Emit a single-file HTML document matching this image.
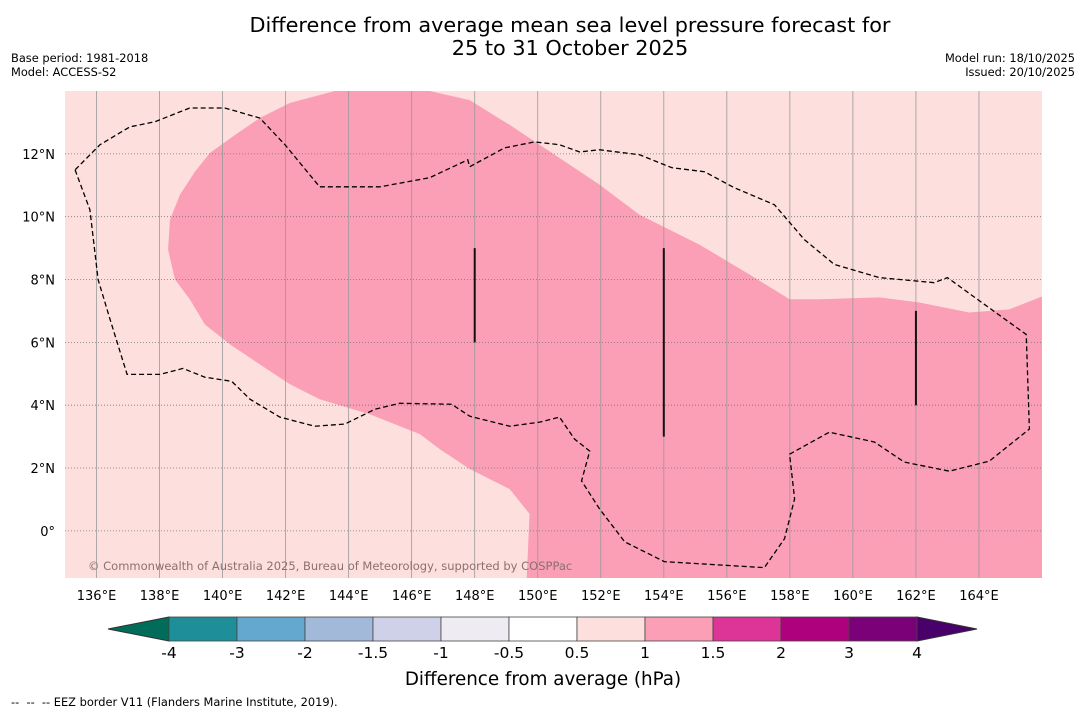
<!DOCTYPE html>
<html><head><meta charset="utf-8"><style>
body{margin:0;width:1085px;height:713px;background:#fff;font-family:"DejaVu Sans","Liberation Sans",sans-serif;overflow:hidden;position:relative}
.t{position:absolute;white-space:nowrap}
</style></head><body>
<div class="t" style="left:0;width:1140px;top:14px;text-align:center;font-size:20.8px;line-height:23px;color:#000">Difference from average mean sea level pressure forecast for<br>25 to 31 October 2025</div>
<div class="t" style="left:11px;top:51px;font-size:11.4px;line-height:14px">Base period: 1981-2018<br>Model: ACCESS-S2</div>
<div class="t" style="right:10px;top:51px;font-size:11.4px;line-height:14px;text-align:right">Model run: 18/10/2025<br>Issued: 20/10/2025</div>
<svg id="map" width="1085" height="713" style="position:absolute;left:0;top:0"></svg>
<div class="t" style="left:11px;top:695px;font-size:11.4px">-- &nbsp;-- &nbsp;-- EEZ border V11 (Flanders Marine Institute, 2019).</div>
<script>
const lonTicks=[136,138,140,142,144,146,148,150,152,154,156,158,160,162,164];
const latTicks=[0,2,4,6,8,10,12];
const anomLon=[143.56,146.57,147.84,149.11,150.06,151.96,153.23,155.13,156.72,157.99,158.94,160.84,162.11,163.69,164.96,166,166,149.65,149.74,149.11,147.84,146.89,146.26,144.67,143.08,142.13,141.18,140.23,139.44,138.96,138.49,138.27,138.33,138.65,139.12,139.6,140.39,141.18,142.13];
const anomLat=[14,14,13.71,12.92,12.29,11.02,10.06,9.11,8.16,7.37,7.37,7.43,7.27,6.95,7.05,7.46,-1.5,-1.5,0.54,1.33,1.97,2.6,3.08,3.71,4.19,4.67,5.3,5.94,6.57,7.37,8.0,8.95,9.9,10.7,11.43,12.03,12.6,13.14,13.62];
const eezLon=[135.32,135.79,136.05,136.43,136.97,138.01,138.74,139.44,140.29,140.87,141.82,142.93,143.88,144.83,145.62,147.27,147.84,149.11,150.06,150.69,151.17,151.65,151.39,151.96,152.76,154.02,157.19,157.83,158.15,157.99,159.25,160.68,161.63,163.06,164.33,165.6,165.5,164.17,163.0,162.58,160.84,159.41,158.46,157.51,156.24,155.29,154.25,153.23,151.96,151.33,150.69,149.9,148.95,147.84,147.78,146.57,144.99,143.08,141.98,141.18,140.07,138.96,137.85,137.06,136.11,135.32];
const eezLat=[11.49,10.22,8.0,6.73,4.98,4.98,5.17,4.89,4.76,4.19,3.62,3.33,3.4,3.87,4.06,4.03,3.65,3.33,3.46,3.62,2.92,2.54,1.59,0.7,-0.35,-0.98,-1.17,-0.25,1.02,2.44,3.14,2.83,2.19,1.9,2.22,3.24,6.25,7.21,8.06,7.9,8.06,8.48,9.27,10.38,10.92,11.43,11.56,11.97,12.13,12.06,12.29,12.38,12.19,11.59,11.81,11.24,10.95,10.95,12.29,13.14,13.46,13.46,13.02,12.86,12.29,11.49];
const segLon=[148,154,162];
const segLat0=[6,3,4];
const segLat1=[9,9,7];
const cbTicks=["-4","-3","-2","-1.5","-1","-0.5","0.5","1","1.5","2","3","4"];
const cbColors=["#1e8f98","#64a8d0","#a3b9da","#cfd1e8","#efebf3","#ffffff","#fde0dd","#fa9fb5","#dd3497","#ae017e","#7a0177"];
const L=65,R=1042,T=91,B=578,lon0=135,lon1=166,lat0=-1.5,lat1=14;
const X=v=>L+(v-lon0)/(lon1-lon0)*(R-L);
const Y=v=>B-(v-lat0)/(lat1-lat0)*(B-T);
const svg=document.getElementById('map');const NS='http://www.w3.org/2000/svg';
function mk(tag,attrs,parent){const e=document.createElementNS(NS,tag);for(const k in attrs)e.setAttribute(k,attrs[k]);(parent||svg).appendChild(e);return e;}
const clip=mk('clipPath',{id:'cp'});mk('rect',{x:L,y:T,width:R-L,height:B-T},clip);
let e=mk('rect',{x:L,y:T,width:R-L,height:B-T,fill:'#fde0dd'});


const g=mk('g',{'clip-path':'url(#cp)'});
e=mk('polygon',{points:anomLon.map((v,i)=>X(v)+','+Y(anomLat[i])).join(' '),fill:'#fa9fb5'},g);


lonTicks.forEach(v=>{const l=mk('line',{x1:X(v),x2:X(v),y1:T,y2:B,stroke:'#999',"stroke-width":0.8},g);


const t=mk('text',{x:X(v),y:600,'font-size':13,'text-anchor':'middle','font-family':'DejaVu Sans, sans-serif'});t.textContent=v+'°E';

});
latTicks.forEach(v=>{const l=mk('line',{x1:L,x2:R,y1:Y(v),y2:Y(v),stroke:'#777',"stroke-width":0.8,'stroke-dasharray':'1,2'},g);


const t=mk('text',{x:55,y:Y(v)+5,'font-size':13,'text-anchor':'end','font-family':'DejaVu Sans, sans-serif'});t.textContent=v===0?'0°':v+'°N';

});
e=mk('polyline',{points:eezLon.map((v,i)=>X(v)+','+Y(eezLat[i])).join(' '),fill:'none',stroke:'#000','stroke-width':1.3,'stroke-dasharray':'5,3'},g);


segLon.forEach((v,i)=>{const l=mk('line',{x1:X(v),x2:X(v),y1:Y(segLat0[i]),y2:Y(segLat1[i]),stroke:'#111','stroke-width':2},g);

});
e=mk('text',{x:88,y:570,'font-size':11.5,fill:'#8a7070','font-family':'DejaVu Sans, sans-serif'},g);e.textContent='© Commonwealth of Australia 2025, Bureau of Meteorology, supported by COSPPac';


const cx0=169,cx1=917,cy=617,ch=24,sw=(cx1-cx0)/cbColors.length;
e=mk('polygon',{points:`108,${cy+ch/2} ${cx0},${cy} ${cx0},${cy+ch}`,fill:'#016c59',stroke:'#333'});


e=mk('polygon',{points:`977,${cy+ch/2} ${cx1},${cy} ${cx1},${cy+ch}`,fill:'#49006a',stroke:'#333'});


cbColors.forEach((c,i)=>{const r=mk('rect',{x:cx0+i*sw,y:cy,width:sw,height:ch,fill:c,stroke:'#444','stroke-width':0.8});

});
cbTicks.forEach((s,i)=>{const t=mk('text',{x:cx0+i*sw,y:658,'font-size':15.5,'text-anchor':'middle','font-family':'DejaVu Sans, sans-serif'});t.textContent=s;

});
e=mk('text',{x:543,y:685,'font-size':18.3,'text-anchor':'middle','font-family':'DejaVu Sans, sans-serif'});e.textContent='Difference from average (hPa)';


</script>
</body></html>
